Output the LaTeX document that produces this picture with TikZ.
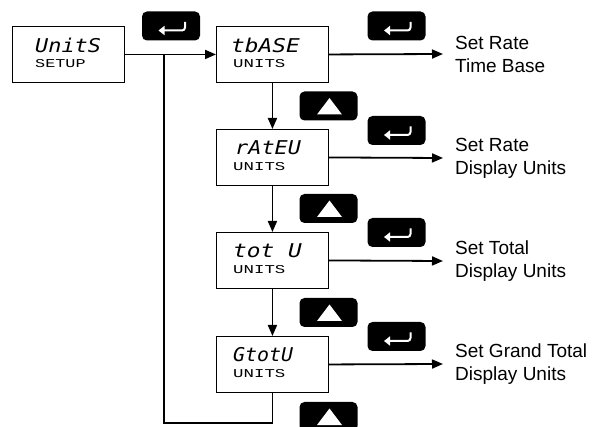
\documentclass[tikz,border=0pt]{standalone}
\usepackage{fontspec}
\usepackage{graphicx}
\setmainfont{Liberation Sans}
\newfontfamily\dispfont{DejaVu Sans Mono}
\newfontfamily\subfont{Liberation Mono}
\usetikzlibrary{arrows.meta}
\tikzset{
  dispbox/.style={draw,line width=0.9pt,minimum width=112pt,minimum height=56pt,inner sep=0pt,anchor=north west},
  topline/.style={anchor=west,inner sep=0pt,font=\dispfont\itshape\fontsize{19}{19}\selectfont},
  subline/.style={anchor=west,inner sep=0pt,font=\subfont\fontsize{12}{12}\selectfont},
  conn/.style={line width=1.8pt},
  arr/.style={conn,-{Triangle[length=11pt,width=9pt]}},
  btn/.style={fill=black,rounded corners=5pt,minimum width=58pt,minimum height=29pt,inner sep=0pt},
  lbl/.style={anchor=west,align=left,inner sep=0pt,font=\fontsize{19}{23}\selectfont},
  entersym/.pic={\draw[white,line width=2pt,rounded corners=3pt,-{Triangle[length=6pt,width=9pt]}] (14,-4) -- (14,4.5) -- (-12.5,4.5);},
  upsym/.pic={\fill[white] (1,-8) -- (13.5,8.5) -- (-11.5,8.5) -- cycle;}
}
\begin{document}
\begin{tikzpicture}[x=1pt,y=-1pt]
\useasboundingbox (0,0) rectangle (597,427);
\clip (0,0) rectangle (597,427);
% display boxes
\node[dispbox] (u) at (12,26) {};
\node[dispbox] (tb) at (216,26) {};
\node[dispbox] (ra) at (216,129) {};
\node[dispbox] (to) at (216,232) {};
\node[dispbox] (gt) at (216,336) {};
% display texts
\node[topline] (ut) at (35,45) {\scalebox{1.15}[1]{UnitS}};
\node[subline] (us) at (35,64) {\scalebox{1.4}[1]{SETUP}};
\node[topline] (tbt) at (231,45) {\scalebox{1.2}[1]{tbASE}};
\node[subline] (tbs) at (233,64) {\scalebox{1.45}[1]{UNITS}};
\node[topline] (rat) at (235,148) {\scalebox{1.15}[1]{rAtEU}};
\node[subline] (ras) at (233,167) {\scalebox{1.45}[1]{UNITS}};
\node[topline] (tot) at (233,251) {\scalebox{1.2}[1]{tot U}};
\node[subline] (tos) at (233,270) {\scalebox{1.45}[1]{UNITS}};
\node[topline] (gtt) at (233,355) {\scalebox{1.05}[1]{GtotU}};
\node[subline] (gts) at (233,374) {\scalebox{1.45}[1]{UNITS}};
% buttons
\node[btn] (e0) at (171,26) {};
\node[btn] (e1) at (396.5,26) {};
\node[btn] (e2) at (396.5,130.5) {};
\node[btn] (e3) at (396.5,232.5) {};
\node[btn] (e4) at (396.5,336.5) {};
\node[btn] (p1) at (328.5,106) {};
\node[btn] (p2) at (328.5,208.5) {};
\node[btn] (p3) at (328.5,312.5) {};
\node[btn] (p4) at (328.5,416.5) {};
\foreach \b in {e0,e1,e2,e3,e4} {\pic at (\b) {entersym};}
\foreach \b in {p1,p2,p3,p4} {\pic at (\b) {upsym};}
% labels
\node[lbl] (l1) at (455,54) {Set Rate\\Time Base};
\node[lbl] (l2) at (455,158) {Set Rate\\Display Units};
\node[lbl] (l3) at (455,261) {Set Total\\Display Units};
\node[lbl] (l4) at (455,364) {Set Grand Total\\Display Units};
% connectors
\coordinate (a1) at (443,54);
\coordinate (a2) at (443,158);
\coordinate (a3) at (443,261);
\coordinate (a4) at (443,364);
\coordinate (j) at (164,54);
\coordinate (jb) at (164,423);
\draw[arr] (u.east) -- (tb.west);
\draw[conn] (j) -- (jb) -| (gt.south);
\draw[arr] (tb.south) -- (ra.north);
\draw[arr] (ra.south) -- (to.north);
\draw[arr] (to.south) -- (gt.north);
\draw[arr] (tb.east) -- (a1);
\draw[arr] (ra.east) -- (a2);
\draw[arr] (to.east) -- (a3);
\draw[arr] (gt.east) -- (a4);
\end{tikzpicture}
\end{document}
